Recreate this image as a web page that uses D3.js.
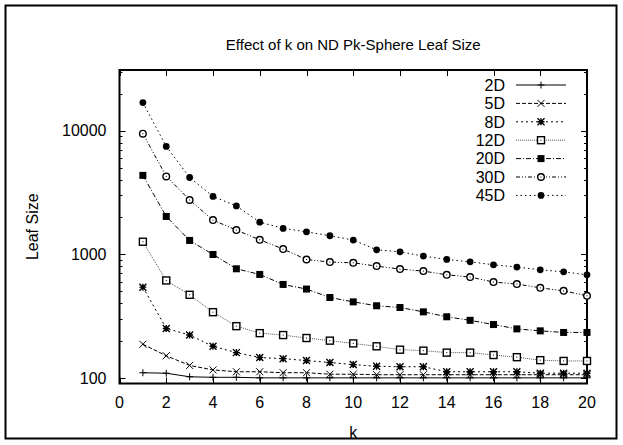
<!DOCTYPE html>
<html>
<head>
<meta charset="utf-8">
<script src="https://cdn.jsdelivr.net/npm/d3@7"></script>
<style>
  body { margin: 0; background: #fff; }
  text { font-family: "Liberation Sans", Arial, Helvetica, sans-serif; fill: #000; }
</style>
</head>
<body>
<div id="chart"></div>
<script>
// values
const ks = d3.range(1, 21);
const seriesNames = ["2D", "5D", "8D", "12D", "20D", "30D", "45D"];
const leaf2D  = [110, 109, 102, 101, 101, 100, 100, 100, 100, 100, 100, 100, 100, 100, 100, 100, 100, 100, 100, 100];
const leaf5D  = [187, 151, 126, 116, 112, 112, 110, 110, 107, 107, 106, 106, 106, 106, 106, 106, 106, 106, 106, 106];
const leaf8D  = [542, 251, 222, 180, 160, 146, 143, 138, 133, 128, 124, 123, 123, 112, 112, 112, 112, 109, 109, 109];
const leaf12D = [1263, 614, 470, 340, 262, 230, 222, 210, 200, 190, 180, 169, 166, 160, 160, 153, 147, 139, 137, 137];
const leaf20D = [4350, 2024, 1294, 996, 763, 687, 570, 523, 447, 412, 383, 371, 342, 312, 292, 270, 249, 240, 233, 233];
const leaf30D = [9460, 4270, 2750, 1890, 1570, 1310, 1101, 907, 865, 853, 802, 759, 731, 682, 654, 596, 574, 535, 506, 461];
const leaf45D = [16900, 7460, 4180, 2940, 2460, 1820, 1620, 1520, 1412, 1303, 1087, 1047, 967, 908, 869, 822, 788, 749, 721, 682];
const xTicks = d3.range(0, 21, 2);
const yTicks = [100, 1000, 10000];

const seriesValues = [leaf2D, leaf5D, leaf8D, leaf12D, leaf20D, leaf30D, leaf45D];
const dashes = ["none", "4,2", "2,3", "1,1", "5,2,1,2", "4,2,1,2,1,2", "1.5,3"];
const strokes = ["#000", "#000", "#000", "#555", "#000", "#000", "#000"];
const markers = ["plus", "cross", "star", "openSquare", "square", "openCircle", "circle"];

const width = 623, height = 445;
const margin = { top: 70, right: 36, bottom: 61.5, left: 119.5 };

const svg = d3.select("#chart").append("svg")
  .attr("width", width)
  .attr("height", height);

// outer frame
svg.append("rect")
  .attr("x", 5.5).attr("y", 5.5)
  .attr("width", 611).attr("height", 433)
  .attr("fill", "none").attr("stroke", "#000").attr("stroke-width", 2);

const x = d3.scaleLinear().domain([0, 20]).range([margin.left, width - margin.right]);
const y = d3.scaleLog().domain([90, 31000]).range([height - margin.bottom, margin.top]);

const x0 = x.range()[0], x1 = x.range()[1];
const y0 = y.range()[0], y1 = y.range()[1];

// ticks, drawn inward on all four sides
const tickG = svg.append("g").attr("stroke", "#000").attr("stroke-width", 1);
xTicks.forEach(t => {
  const px = Math.round(x(t)) + 0.5;
  tickG.append("line").attr("x1", px).attr("x2", px).attr("y1", y0).attr("y2", y0 - 6);
  tickG.append("line").attr("x1", px).attr("x2", px).attr("y1", y1).attr("y2", y1 + 6);
});
const minor = [];
[100, 1000, 10000].forEach(d => { for (let m = 1; m < 10; m++) minor.push(d * m); });
minor.filter(v => v >= 90 && v <= 31000).forEach(v => {
  const len = yTicks.includes(v) ? 6 : 3;
  const py = Math.round(y(v)) + 0.5;
  tickG.append("line").attr("x1", x0).attr("x2", x0 + len).attr("y1", py).attr("y2", py);
  tickG.append("line").attr("x1", x1).attr("x2", x1 - len).attr("y1", py).attr("y2", py);
});

// plot border
svg.append("rect")
  .attr("x", x0).attr("y", y1)
  .attr("width", x1 - x0).attr("height", y0 - y1)
  .attr("fill", "none").attr("stroke", "#000").attr("stroke-width", 2);

// tick labels
svg.append("g").selectAll("text").data(xTicks).join("text")
  .attr("x", d => x(d)).attr("y", y0 + 24)
  .attr("text-anchor", "middle").attr("font-size", 16)
  .text(d => d);
svg.append("g").selectAll("text").data(yTicks).join("text")
  .attr("x", x0 - 13).attr("y", d => y(d)).attr("dy", "0.36em")
  .attr("text-anchor", "end").attr("font-size", 16)
  .text(d => d);

// titles
svg.append("text").attr("x", (x0 + x1) / 2).attr("y", 50)
  .attr("text-anchor", "middle").attr("font-size", 15)
  .text("Effect of k on ND Pk-Sphere Leaf Size");
svg.append("text").attr("x", (x0 + x1) / 2).attr("y", 438)
  .attr("text-anchor", "middle").attr("font-size", 16)
  .text("k");
svg.append("text")
  .attr("transform", `translate(38, ${(y0 + y1) / 2}) rotate(-90)`)
  .attr("text-anchor", "middle").attr("font-size", 16)
  .text("Leaf Size");

function drawMarker(g, kind, cx, cy, color) {
  const r = 3.5;
  if (kind === "plus") {
    g.append("path").attr("d", `M${cx - r},${cy}H${cx + r}M${cx},${cy - r}V${cy + r}`)
      .attr("stroke", color).attr("fill", "none");
  } else if (kind === "cross") {
    g.append("path").attr("d", `M${cx - r},${cy - r}L${cx + r},${cy + r}M${cx - r},${cy + r}L${cx + r},${cy - r}`)
      .attr("stroke", color).attr("fill", "none");
  } else if (kind === "star") {
    g.append("path").attr("d", `M${cx - r},${cy}H${cx + r}M${cx},${cy - r}V${cy + r}M${cx - r},${cy - r}L${cx + r},${cy + r}M${cx - r},${cy + r}L${cx + r},${cy - r}`)
      .attr("stroke", color).attr("stroke-width", 1.4).attr("fill", "none");
  } else if (kind === "openSquare") {
    g.append("rect").attr("x", cx - r).attr("y", cy - r).attr("width", 2 * r).attr("height", 2 * r)
      .attr("fill", "#fff").attr("stroke", "#000").attr("stroke-width", 1.4);
    g.append("rect").attr("x", cx - 0.5).attr("y", cy - 0.5).attr("width", 1).attr("height", 1).attr("fill", "#000");
  } else if (kind === "square") {
    g.append("rect").attr("x", cx - r).attr("y", cy - r).attr("width", 2 * r).attr("height", 2 * r)
      .attr("fill", "#000");
  } else if (kind === "openCircle") {
    g.append("circle").attr("cx", cx).attr("cy", cy).attr("r", 3.3)
      .attr("fill", "#fff").attr("stroke", "#000").attr("stroke-width", 1.4);
    g.append("rect").attr("x", cx - 0.5).attr("y", cy - 0.5).attr("width", 1).attr("height", 1).attr("fill", "#000");
  } else if (kind === "circle") {
    g.append("circle").attr("cx", cx).attr("cy", cy).attr("r", 3.4).attr("fill", "#000");
  }
}

const line = d3.line().x((d, i) => x(ks[i])).y(d => y(d));

seriesValues.forEach((vals, si) => {
  const g = svg.append("g");
  g.append("path").datum(vals)
    .attr("d", line)
    .attr("fill", "none")
    .attr("stroke", strokes[si])
    .attr("stroke-width", 1)
    .attr("stroke-dasharray", dashes[si]);
  vals.forEach((v, i) => drawMarker(g, markers[si], x(ks[i]), y(v), strokes[si]));
});

// legend
const legY0 = 85, legStep = 18.4;
seriesNames.forEach((name, si) => {
  const ly = legY0 + si * legStep;
  const g = svg.append("g");
  g.append("text").attr("x", 505).attr("y", ly).attr("dy", "0.36em")
    .attr("text-anchor", "end").attr("font-size", 16).text(name);
  g.append("line").attr("x1", 516).attr("x2", 566).attr("y1", ly).attr("y2", ly)
    .attr("stroke", strokes[si]).attr("stroke-width", 1)
    .attr("stroke-dasharray", dashes[si]);
  drawMarker(g, markers[si], 541, ly, strokes[si]);
});
</script>
</body>
</html>
